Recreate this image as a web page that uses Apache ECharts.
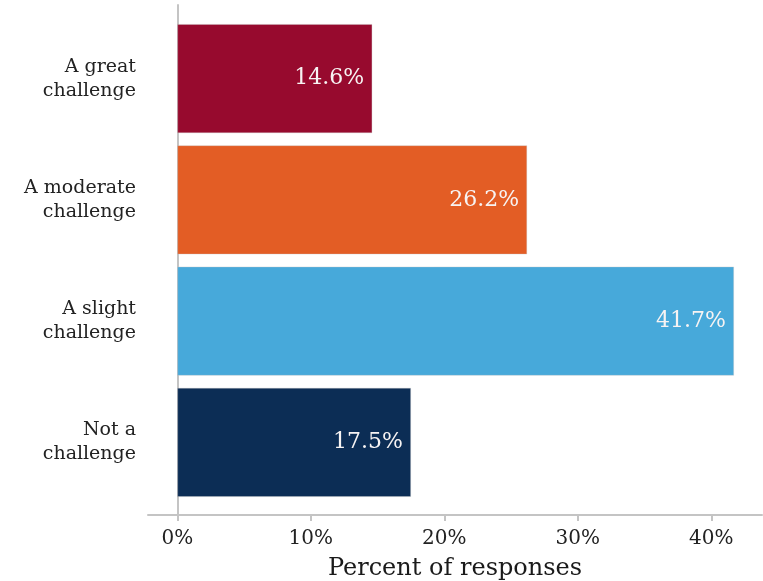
<!DOCTYPE html>
<html>
<head>
<meta charset="utf-8">
<style>
  html, body { margin: 0; padding: 0; background: #ffffff; }
  #chart { width: 763px; height: 581px; }
</style>
<script src="https://cdn.jsdelivr.net/npm/echarts@6/dist/echarts.min.js"></script>
</head>
<body>
<div id="chart"></div>
<script>
// Response categories, top to bottom
const categories = ['A great\nchallenge', 'A moderate\nchallenge', 'A slight\nchallenge', 'Not a\nchallenge'];
// Percent of responses for each category
const percents = [14.6, 26.2, 41.7, 17.5];
// Bar fill for each category
const barColors = ['#970a2e', '#e35d25', '#47a9da', '#0c2d55'];
// Tick positions on the percent axis
const tickValues = [0, 10, 20, 30, 40];

const serif = 'DejaVu Serif';
const axisGray = '#c4c4c4';

const chart = echarts.init(document.getElementById('chart'), null, { renderer: 'canvas' });

chart.setOption({
  animation: false,
  backgroundColor: '#ffffff',
  grid: [
    // bars
    { left: 148, right: 1, top: 18, bottom: 78, outerBoundsMode: 'none' },
    // axis frame
    { left: 148, right: 1, top: 5, bottom: 66, outerBoundsMode: 'none' }
  ],
  xAxis: [
    {
      gridIndex: 0, type: 'value', min: -2.2, max: 43.8,
      show: false
    },
    {
      gridIndex: 1, type: 'value', min: -2.2, max: 43.8,
      position: 'bottom',
      axisLine: { show: true, onZero: false, lineStyle: { color: axisGray, width: 2 } },
      axisTick: { show: true, length: 6, inside: false, customValues: tickValues,
                  lineStyle: { color: axisGray, width: 2 } },
      axisLabel: { show: true, customValues: tickValues, margin: 14,
                   formatter: v => v + '%',
                   fontFamily: serif, fontSize: 20, color: '#222222' },
      splitLine: { show: false },
      name: 'Percent of responses',
      nameLocation: 'middle',
      nameGap: 42,
      nameTextStyle: { fontFamily: serif, fontSize: 24, color: '#1a1a1a' }
    }
  ],
  yAxis: [
    {
      gridIndex: 0, type: 'category', inverse: true, data: categories,
      axisLine: { show: true, onZero: true, lineStyle: { color: axisGray, width: 2 } },
      axisTick: { show: false },
      axisLabel: { margin: 12, fontFamily: serif, fontSize: 19, lineHeight: 24,
                   color: '#222222', align: 'right', padding: [4, 0, 0, 0] },
      splitLine: { show: false }
    },
    {
      gridIndex: 1, type: 'value', min: 0, max: 1,
      axisLine: { show: true, onZero: true, lineStyle: { color: axisGray, width: 2 } },
      axisTick: { show: false },
      axisLabel: { show: false },
      splitLine: { show: false }
    }
  ],
  series: [
    {
      type: 'bar',
      xAxisIndex: 0,
      yAxisIndex: 0,
      barWidth: 109,
      data: percents.map((v, i) => ({
        value: v,
        itemStyle: { color: barColors[i], borderColor: 'rgba(200,200,200,0.6)', borderWidth: 0.6 }
      })),
      label: {
        show: true,
        position: 'insideRight',
        distance: 8,
        formatter: p => p.value.toFixed(1) + '%',
        fontFamily: serif,
        fontSize: 22,
        color: '#f7f3f3'
      },
      z: 1
    }
  ]
});
</script>
</body>
</html>
